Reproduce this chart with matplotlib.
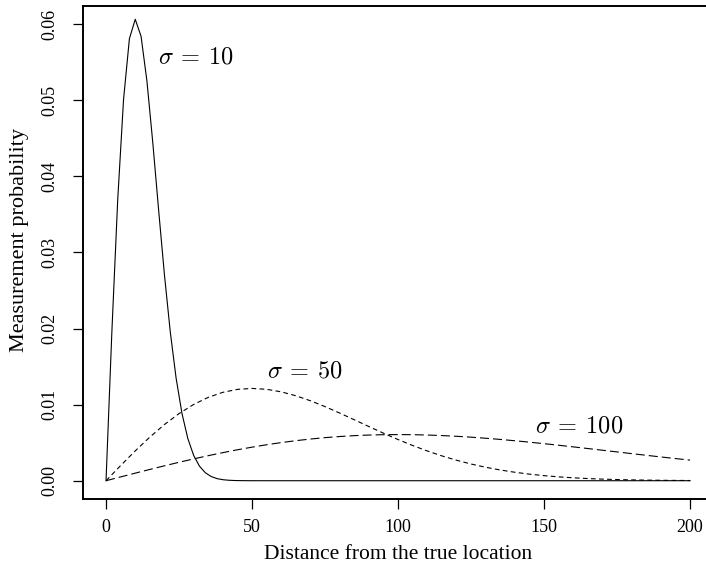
import matplotlib
matplotlib.use("Agg")
import matplotlib.pyplot as plt

# sigma = 10 curve, sampled every 2 units
distance_fine = list(range(0, 201, 2))
prob_sigma10 = [
    0.0, 0.019604, 0.036925, 0.050116, 0.058092, 0.060653, 0.058410, 0.052544,
    0.044486, 0.035622, 0.027067, 0.019563, 0.013472, 0.008852, 0.005556,
    0.003333, 0.001912, 0.001050, 0.000552, 0.000278, 0.000134, 0.000062,
    0.000028, 0.000012, 0.000005, 0.000002,
    0.0, 0.0, 0.0, 0.0, 0.0, 0.0, 0.0, 0.0, 0.0, 0.0, 0.0, 0.0, 0.0, 0.0, 0.0,
    0.0, 0.0, 0.0, 0.0, 0.0, 0.0, 0.0, 0.0, 0.0, 0.0, 0.0, 0.0, 0.0, 0.0, 0.0,
    0.0, 0.0, 0.0, 0.0, 0.0, 0.0, 0.0, 0.0, 0.0, 0.0, 0.0, 0.0, 0.0, 0.0, 0.0,
    0.0, 0.0, 0.0, 0.0, 0.0, 0.0, 0.0, 0.0, 0.0, 0.0, 0.0, 0.0, 0.0, 0.0, 0.0,
    0.0, 0.0, 0.0, 0.0, 0.0, 0.0, 0.0, 0.0, 0.0, 0.0, 0.0, 0.0, 0.0, 0.0, 0.0,
]

# sigma = 50 and sigma = 100 curves, sampled every 5 units
distance_coarse = list(range(0, 201, 5))
prob_sigma50 = [
    0.0, 0.001990, 0.003921, 0.005736, 0.007385, 0.008825, 0.010023, 0.010958,
    0.011618, 0.012006, 0.012131, 0.012014, 0.011682, 0.011168, 0.010509,
    0.009740, 0.008897, 0.008015, 0.007124, 0.006250, 0.005413, 0.004631,
    0.003913, 0.003266, 0.002694, 0.002197, 0.001770, 0.001411, 0.001111,
    0.000865, 0.000667, 0.000508, 0.000382, 0.000285, 0.000210, 0.000153,
    0.000110, 0.000079, 0.000056, 0.000039, 0.000027,
]
prob_sigma100 = [
    0.0, 0.000499, 0.000995, 0.001483, 0.001960, 0.002423, 0.002868, 0.003292,
    0.003692, 0.004067, 0.004412, 0.004728, 0.005012, 0.005262, 0.005479,
    0.005661, 0.005809, 0.005923, 0.006003, 0.006050, 0.006065, 0.006050,
    0.006007, 0.005936, 0.005841, 0.005723, 0.005584, 0.005427, 0.005254,
    0.005068, 0.004870, 0.004663, 0.004449, 0.004230, 0.004008, 0.003785,
    0.003562, 0.003342, 0.003125, 0.002913, 0.002707,
]

x_ticks = [0, 50, 100, 150, 200]
y_ticks = [0.00, 0.01, 0.02, 0.03, 0.04, 0.05, 0.06]
curve_labels = [r"$\sigma\:=\:10$", r"$\sigma\:=\:50$", r"$\sigma\:=\:100$"]
label_spots = [(17.9, 0.0555), (55.2, 0.0143), (147.0, 0.0070)]

plt.rcParams["font.family"] = ["Liberation Serif", "DejaVu Serif"]
plt.rcParams["mathtext.fontset"] = "cm"
plt.rcParams["lines.scale_dashes"] = False

fig = plt.figure(figsize=(7.06, 5.70), dpi=100)
ax = fig.add_axes([0.1171, 0.1246, 0.8934, 0.8649])

ax.plot(distance_fine, prob_sigma10, color="black", lw=0.8)
ax.plot(distance_coarse, prob_sigma50, color="black", lw=0.8, dashes=(3.4, 2.4))
ax.plot(distance_coarse, prob_sigma100, color="black", lw=0.8, dashes=(6.5, 2.9))

for text, (tx, ty) in zip(curve_labels, label_spots):
    ax.text(tx, ty, text, fontsize=17.5, ha="left", va="center")

ax.set_xlim(-8, 208)
ax.set_ylim(-0.0024, 0.0624)
ax.set_xticks(x_ticks)
ax.set_xticklabels([str(t) for t in x_ticks])
ax.set_yticks(y_ticks)
ax.set_yticklabels([f"{t:.2f}" for t in y_ticks], rotation=90, va="center")

for side in ax.spines.values():
    side.set_linewidth(1.4)
ax.tick_params(axis="both", length=7.2, width=0.9, labelsize=13)
ax.tick_params(axis="x", pad=7.5)
ax.tick_params(axis="y", pad=10)

ax.set_xlabel("Distance from the true location", fontsize=15.5, labelpad=6.5)
ax.set_ylabel("Measurement probability", fontsize=16)
ax.yaxis.set_label_coords(-0.085, 0.525)

fig.savefig("out.png", dpi=100)
